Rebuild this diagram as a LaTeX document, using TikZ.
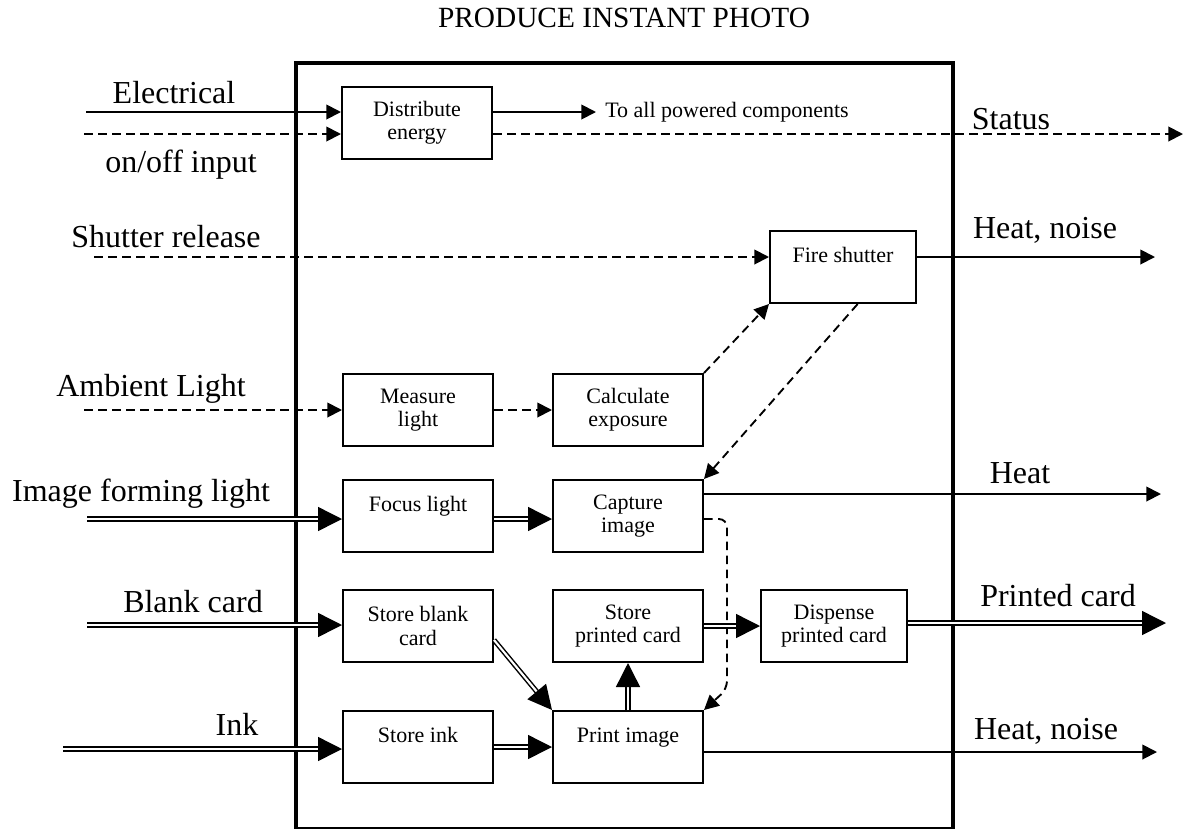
\documentclass[tikz,border=0pt]{standalone}
\usepackage{fontspec}
\setmainfont{Liberation Serif}
\usetikzlibrary{arrows.meta}

\begin{document}
\begin{tikzpicture}[x=0.75pt, y=-0.75pt,
    box/.style={draw, line width=1.5pt, minimum width=112.5pt, minimum height=54pt, align=center, inner sep=0pt, font=\fontsize{16.5}{17.5}\selectfont},
    lbl/.style={anchor=base, inner sep=0pt, font=\fontsize{24}{28}\selectfont},
    flow/.style={line width=1.4pt, -{Triangle[length=11pt, width=11pt]}},
    sig/.style={flow, dash pattern=on 6.5pt off 4pt},
    mat/.style={line width=1.1pt, double, double distance=1.6pt, -{Triangle[length=18pt, width=18pt]}}]
        \useasboundingbox (0,0) rectangle (1185,829);
        \draw[line width=3pt] (296,828) -- (296,63) -- (953,63) -- (953,828);
        \draw[line width=1.5pt] (294,827.5) -- (955,827.5);
        \node (title) at (624,27)[anchor=base, font=\fontsize{22}{26}\selectfont]{PRODUCE INSTANT PHOTO};

        \node (dist) at (417,123)[box]{Distribute\\energy};
        \node (measure) at (418,410)[box]{Measure\\light};
        \node (calc) at (628,410)[box]{Calculate\\exposure};
        \node (fire) at (843,267)[box, minimum width=109.5pt]{Fire shutter\\~};
        \node (focus) at (418,516)[box]{Focus light\\~};
        \node (capture) at (628,516)[box]{Capture\\image};
        \node (storeblank) at (418,626)[box]{Store blank\\card};
        \node (storeprinted) at (628,626)[box]{Store\\printed card};
        \node (dispense) at (834,626)[box, minimum width=109.5pt]{Dispense\\printed card};
        \node (storeink) at (418,747)[box]{Store ink\\~};
        \node (print) at (628,747)[box]{Print image\\~};
        \node (allpow) at (596,112)[anchor=west, inner sep=0pt, inner xsep=6.75pt, font=\fontsize{16.5}{17.5}\selectfont]{To all powered components};

        \node (elec) at (174,103)[lbl]{Electrical};
        \node (onoff) at (181,172)[lbl]{on/off input};
        \node (status) at (1011,129)[lbl]{Status};
        \node (shutter) at (166,247)[lbl]{Shutter release};
        \node (hnoise) at (1045,238)[lbl]{Heat, noise};
        \node (ambient) at (151,396)[lbl]{Ambient Light};
        \node (imgform) at (141,501)[lbl]{Image forming light};
        \node (heat) at (1020,483)[lbl]{Heat};
        \node (blank) at (193,612)[lbl]{Blank card};
        \node (printed) at (1058,606)[lbl]{Printed card};
        \node (ink) at (237,735)[lbl]{Ink};
        \node (hnoisep) at (1046,739)[lbl]{Heat, noise};

        \coordinate (elecin) at (86,112);
        \coordinate (onin) at (84,134);
        \coordinate (statout) at (1183,134);
        \coordinate (shutin) at (94,257);
        \coordinate (hnout) at (1155,257);
        \coordinate (ambin) at (84,410);
        \coordinate (ifin) at (87,519);
        \coordinate (heatout) at (1161,494);
        \coordinate (bcin) at (87,625);
        \coordinate (pcout) at (1166,623);
        \coordinate (inkin) at (63,749);
        \coordinate (hnpout) at (1157,752);

        \draw[flow] (elecin) -- (dist.west |- elecin);
        \draw[flow] (dist.east |- elecin) -- (allpow.west);
        \draw[sig] (onin) -- (dist.west |- onin);
        \draw[sig] (dist.east |- onin) -- (statout);
        \draw[sig] (shutin) -- (fire.west |- shutin);
        \draw[flow] (fire.east |- shutin) -- (hnout);
        \draw[sig] (ambin) -- (measure.west);
        \draw[sig] (measure) -- (calc);
        \draw[sig] (calc.north east) -- (fire.south west);
        \draw[sig] ([xshift=11pt]fire.south) -- (capture.north east);
        \draw[mat] (ifin) -- (focus.west |- ifin);
        \draw[mat] (focus.east |- ifin) -- (capture.west |- ifin);
        \draw[flow] (capture.east |- heatout) -- (heatout);
        \draw[sig, rounded corners=6pt] (capture.east |- ifin) -- ++(23,0) -- ++(0,170) -- (print.north east);
        \draw[mat] (bcin) -- (storeblank.west |- bcin);
        \draw[mat] ([yshift=-10.5pt]storeblank.east) -- (print.north west);
        \draw[mat] (print) -- (storeprinted);
        \draw[mat] (storeprinted) -- (dispense);
        \draw[mat] (dispense.east |- pcout) -- (pcout);
        \draw[mat] (inkin) -- (storeink.west |- inkin);
        \draw[mat] (storeink) -- (print);
        \draw[flow] (print.east |- hnpout) -- (hnpout);

    \end{tikzpicture}
\end{document}
